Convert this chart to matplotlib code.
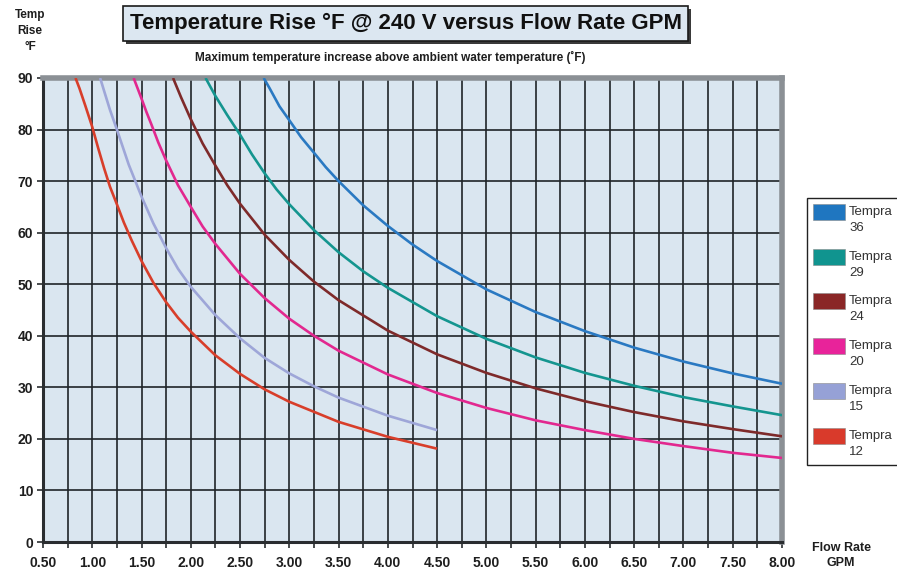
import matplotlib
matplotlib.use("Agg")
import matplotlib.pyplot as plt
from matplotlib.patches import Rectangle
import numpy as np

plt.rcParams['font.family'] = ['Liberation Sans', 'DejaVu Sans']

# ---- data ----
labels = ["Tempra\n36", "Tempra\n29", "Tempra\n24", "Tempra\n20", "Tempra\n15", "Tempra\n12"]
colors = ["#2a79c2", "#14958f", "#7e2a2a", "#e2288f", "#9ea6d8", "#d83e2a"]
legend_colors = ["#1f76c0", "#10948f", "#8a2626", "#e8239a", "#96a1d6", "#d93a2b"]

gpm_36 = [2.74, 2.8, 2.9, 3.0, 3.12, 3.25, 3.37, 3.5, 3.75, 4.0, 4.25, 4.5, 5.0, 5.5, 6.0, 6.5, 7.0, 7.5, 8.0]
rise_36 = [90, 88, 84.5, 81.8, 78.5, 75.5, 72.7, 70, 65.3, 61.3, 57.7, 54.5, 49, 44.6, 40.9, 37.7, 35, 32.7, 30.7]

gpm_29 = [2.15, 2.25, 2.37, 2.5, 2.62, 2.75, 2.87, 3.0, 3.25, 3.5, 3.75, 4.0, 4.5, 5.0, 5.5, 6.0, 6.5, 7.0, 7.5, 8.0]
rise_29 = [90, 86.5, 82.8, 79, 75.2, 71.5, 68.4, 65.5, 60.5, 56.2, 52.5, 49.3, 43.8, 39.4, 35.8, 32.8, 30.3, 28.1, 26.3, 24.6]

gpm_24 = [1.82, 1.9, 2.0, 2.12, 2.25, 2.37, 2.5, 2.75, 3.0, 3.25, 3.5, 4.0, 4.5, 5.0, 5.5, 6.0, 6.5, 7.0, 7.5, 8.0]
rise_24 = [90, 86.3, 82, 77.3, 73, 69.2, 65.6, 59.6, 54.7, 50.5, 46.9, 41, 36.4, 32.8, 29.8, 27.3, 25.2, 23.4, 21.9, 20.5]

gpm_20 = [1.42, 1.46, 1.5, 1.55, 1.6, 1.67, 1.75, 1.87, 2.0, 2.12, 2.25, 2.5, 2.75, 3.0, 3.25, 3.5, 4.0, 4.5, 5.0, 5.5, 6.0, 6.5, 7.0, 7.5, 8.0]
rise_20 = [90, 88, 86, 83.4, 81, 77.5, 74, 69.2, 65, 61.2, 57.8, 52, 47.3, 43.3, 40, 37.1, 32.5, 28.9, 26, 23.6, 21.7, 20, 18.6, 17.3, 16.3]

gpm_15 = [1.08, 1.12, 1.18, 1.25, 1.37, 1.5, 1.62, 1.75, 1.87, 2.0, 2.25, 2.5, 2.75, 3.0, 3.25, 3.5, 4.0, 4.5]
rise_15 = [90, 87.5, 83.8, 80, 73.2, 67, 61.8, 57, 53, 49.5, 44, 39.5, 35.7, 32.7, 30.2, 28, 24.5, 21.7]

gpm_12 = [0.83, 0.87, 0.93, 1.0, 1.06, 1.12, 1.18, 1.25, 1.32, 1.4, 1.5, 1.62, 1.75, 1.87, 2.0, 2.25, 2.5, 2.75, 3.0, 3.5, 4.0, 4.5]
rise_12 = [90, 88, 84.6, 80.5, 76.4, 72.5, 68.9, 65.5, 62, 58.5, 54.5, 50.3, 46.5, 43.5, 40.8, 36.2, 32.6, 29.6, 27.2, 23.3, 20.4, 18.1]

series_x = [gpm_36, gpm_29, gpm_24, gpm_20, gpm_15, gpm_12]
series_y = [rise_36, rise_29, rise_24, rise_20, rise_15, rise_12]

x_ticks = [0.5, 1.0, 1.5, 2.0, 2.5, 3.0, 3.5, 4.0, 4.5, 5.0, 5.5, 6.0, 6.5, 7.0, 7.5, 8.0]
x_tick_labels = ["%.2f" % v for v in x_ticks]
y_ticks = [0, 10, 20, 30, 40, 50, 60, 70, 80, 90]

# ---- figure ----
W, H = 897, 569
fig = plt.figure(figsize=(W / 100, H / 100), dpi=100)
ax = fig.add_axes([43 / W, 1 - 542 / H, (782 - 43) / W, (542 - 78) / H])
ax.set_facecolor("#dae6f0")
ax.set_xlim(0.5, 8.0)
ax.set_ylim(0, 90)

minor_x = np.arange(0.5, 8.001, 0.25)
ax.set_xticks(minor_x, minor=True)
ax.set_xticks(x_ticks)
ax.set_xticklabels(x_tick_labels)
ax.set_yticks(y_ticks)
ax.grid(True, which="both", axis="x", color="#1f2428", lw=1.2, zorder=1)
ax.grid(True, which="major", axis="y", color="#1f2428", lw=1.2, zorder=1)
ax.set_axisbelow(True)

for xs, ys, c in zip(series_x, series_y, colors):
    ax.plot(xs, ys, color=c, lw=1.9, zorder=3, solid_capstyle="butt", solid_joinstyle="round")

for s in ["top", "right"]:
    ax.spines[s].set_color("#8b9095")
    ax.spines[s].set_linewidth(4)
for s in ["left", "bottom"]:
    ax.spines[s].set_color("#2a2d30")
    ax.spines[s].set_linewidth(2.2)

ax.tick_params(axis="both", which="both", direction="out", length=4, width=1.2, color="#2a2d30")
ax.tick_params(axis="x", which="major", labelsize=10, pad=6)
ax.tick_params(axis="y", which="major", labelsize=10, pad=3)
for t in ax.get_xticklabels() + ax.get_yticklabels():
    t.set_fontweight("bold")
    t.set_color("#1e1e1e")

# title box with shadow
fig.patches.append(Rectangle((126 / W, 1 - 44 / H), 565 / W, 35 / H, transform=fig.transFigure,
                             facecolor="#3a3a3a", edgecolor="none", zorder=1))
fig.patches.append(Rectangle((123 / W, 1 - 41 / H), 565 / W, 35 / H, transform=fig.transFigure,
                             facecolor="#dce7f1", edgecolor="#1a1a1a", lw=1.2, zorder=2))
fig.text(405.5 / W, 1 - 23.5 / H, "Temperature Rise °F @ 240 V versus Flow Rate GPM",
         ha="center", va="center", fontsize=16, fontweight="bold", color="#111111", zorder=3)
fig.text(390 / W, 1 - 57 / H, "Maximum temperature increase above ambient water temperature (˚F)",
         ha="center", va="center", fontsize=8.5, fontweight="bold", color="#1e1e1e")
fig.text(30 / W, 1 - 31 / H, "Temp\nRise\n°F", ha="center", va="center", fontsize=8.5,
         fontweight="bold", color="#1e1e1e", linespacing=1.4)
fig.text(841 / W, 1 - 555.5 / H, "Flow Rate\nGPM", ha="center", va="center", fontsize=9,
         fontweight="bold", color="#1e1e1e", linespacing=1.3)

# legend (drawn as a boxed key, right edge runs off the figure as in the reference)
fig.patches.append(Rectangle((807 / W, 1 - 465 / H), 120 / W, 267 / H, transform=fig.transFigure,
                             facecolor="white", edgecolor="#222222", lw=1.0, zorder=1))
pitch = 44.7
for i, (lab, c) in enumerate(zip(labels, legend_colors)):
    top = 204 + i * pitch
    fig.patches.append(Rectangle((813 / W, 1 - (top + 16) / H), 32 / W, 16 / H,
                                 transform=fig.transFigure, facecolor=c,
                                 edgecolor="#8a8a8a", lw=0.4, zorder=2))
    fig.text(849 / W, 1 - (top + 2) / H, lab, ha="left", va="top", fontsize=9.5,
             color="#333333", linespacing=1.45, zorder=3)

fig.savefig("out.png", dpi=100, facecolor="white")
